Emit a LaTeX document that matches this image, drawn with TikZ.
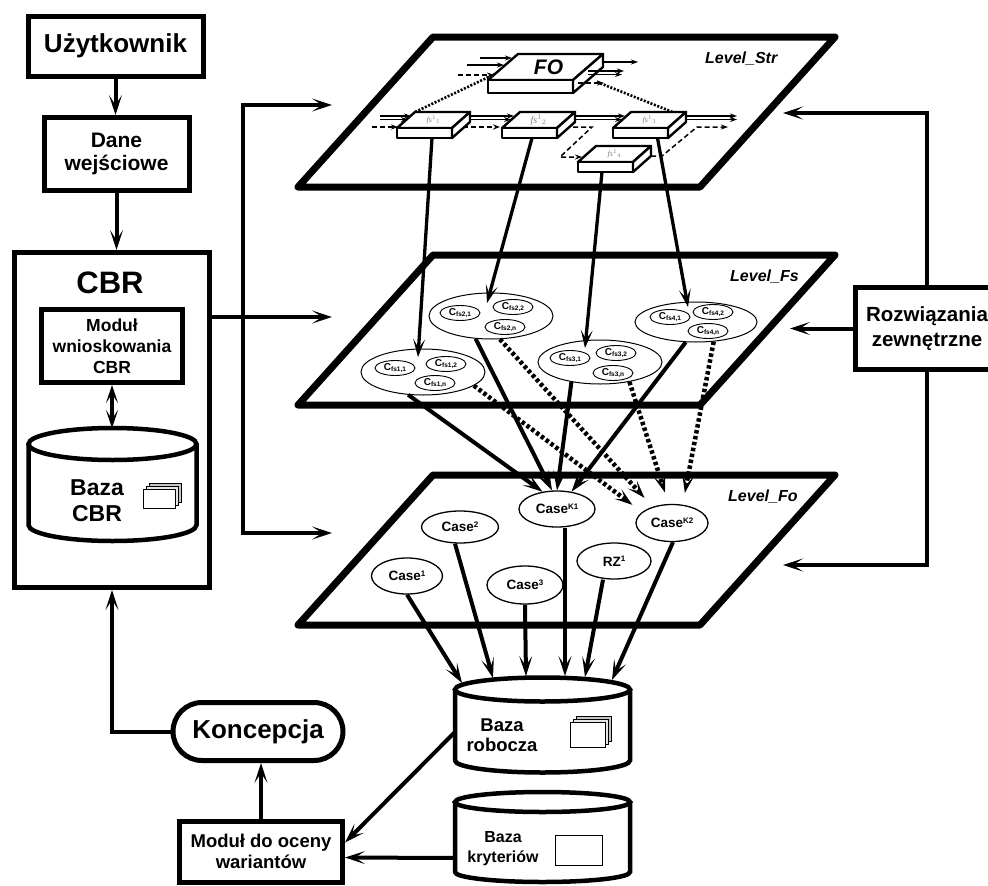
\documentclass[tikz,border=0pt]{standalone}
\usepackage{fontspec}
\setmainfont{Liberation Sans}
\newfontfamily\serifit{Liberation Serif}
\usetikzlibrary{arrows.meta,shapes.geometric}
\newcommand\fsz[2]{\bfseries\fontsize{#1}{#2}\selectfont}
\newcommand\Cfs[1]{{\fontsize{10}{10}\selectfont C}\raisebox{-1.8pt}{\fontsize{6.5}{6.5}\selectfont #1}}
\newcommand\Csup[2]{#1\raisebox{4.5pt}{\fontsize{8}{8}\selectfont #2}}
\newcommand\fslab[2]{\textcolor{gray}{\fontsize{#2}{#2}\selectfont\serifit\itshape fs$^{1}$$_{#1}$}}
\newcommand\drawcyl[5]{%
  \fill[white] (#1-#4,#2) -- (#1-#4,#3) arc[start angle=180,end angle=360,x radius=#4pt,y radius=#5pt] -- (#1+#4,#2) -- cycle;
  \draw[cyl] (#1-#4,#2) -- (#1-#4,#3) arc[start angle=180,end angle=360,x radius=#4pt,y radius=#5pt] -- (#1+#4,#2);
  \draw[cyl, fill=white] (#1,#2) ellipse[x radius=#4pt, y radius=#5pt];
}
\newcommand\cards[4]{%
  \draw[line width=0.7pt, fill=gray!45] (#1+6,#2-6) rectangle ++(#3,#4);
  \draw[line width=0.7pt, fill=gray!20] (#1+3,#2-3) rectangle ++(#3,#4);
  \draw[line width=0.7pt, fill=white] (#1,#2) rectangle ++(#3,#4);
}
\newcommand\slab[7]{%
  \draw[slabline] (#2,#3) -- ++(#4,0) -- ++(#5,-#6) -- ++(-#4,0) -- cycle;
  \draw[slabline] (#2,#3) rectangle ++(#4,#7);
  \draw[slabline] (#2+#4,#3) -- ++(#5,-#6) -- ++(0,#7) -- ++(-#5,#6) -- cycle;
  \coordinate (#1) at (#2+#4/2,#3+#7);
  \coordinate (#1top) at (#2+#4/2+#5/2,#3-#6/2);
}
\begin{document}
\begin{tikzpicture}[x=1pt,y=-1pt,
  every node/.style={inner sep=0pt, align=center},
  box/.style={draw, line width=5pt, fill=white, rectangle},
  plane/.style={draw, line width=7pt, line join=round, fill=white},
  arr/.style={line width=4pt, -{Stealth[length=20pt,width=13pt,inset=10pt,line width=1.2pt]}},
  darr/.style={line width=4pt, {Stealth[length=18pt,width=12pt,inset=9pt,line width=1.2pt]}-{Stealth[length=18pt,width=12pt,inset=9pt,line width=1.2pt]}},
  arrt/.style={line width=3.3pt, -{Stealth[length=18pt,width=12pt,inset=9pt,line width=1.2pt]}},
  conn/.style={line width=4pt},
  cyl/.style={line width=4.5pt},
  bige/.style={ellipse, draw, line width=1pt, minimum width=124pt, minimum height=46pt},
  sme/.style={ellipse, draw, line width=0.9pt, minimum width=40pt, minimum height=15pt, font=\bfseries},
  casee/.style={ellipse, draw, line width=1.3pt, fill=white, font=\fsz{13.5}{14}},
  dotarr/.style={line width=4.5pt, dash pattern=on 3.5pt off 2.5pt, -{Stealth[length=18pt,width=12pt,inset=9pt,line width=1.2pt]}, shorten >=12pt},
  slabline/.style={line width=2.4pt, fill=white, line join=round},
  sm/.style={line width=1.5pt, -{Stealth[length=7pt,width=5pt,inset=2.5pt]}},
  smd/.style={sm, dash pattern=on 5pt off 3pt},
  lvl/.style={font=\bfseries\itshape\fontsize{16}{16}\selectfont, anchor=base west},
  fodot/.style={line width=2.6pt, dash pattern=on 2pt off 1.6pt},
]
\useasboundingbox (0,0) rectangle (988,886);

% ---------------- planes
\draw[plane] (433,37) -- (835,37) -- (700,187) -- (298,187) -- cycle;
\draw[plane] (433,255) -- (835,255) -- (700,405) -- (298,405) -- cycle;
\draw[plane] (433,475) -- (835,475) -- (700,625) -- (298,625) -- cycle;
\node[lvl] (lv1) at (705,63) {Level\_Str};
\node[lvl] (lv2) at (730,281) {Level\_Fs};
\node[lvl] (lv3) at (728,501) {Level\_Fo};

% ---------------- left column
\node[box, minimum width=175pt, minimum height=60pt, font=\fsz{26}{28}] (user) at (115.5,46) {Użytkownik};
\node[box, minimum width=145pt, minimum height=73pt, font=\fsz{21}{23}] (dane) at (116.5,154) {Dane\\wejściowe};
\node[box, minimum width=195pt, minimum height=335pt] (cbr) at (112,420) {};
\node[font=\fsz{31}{31}] (cbrt) at (110,282.5) {CBR};
\node[box, minimum width=141pt, minimum height=73pt, font=\fsz{17.5}{21}] (modul) at (112,346) {Moduł\\wnioskowania\\CBR};
\drawcyl{112.5}{444}{525}{84}{16}
\cards{143}{489}{32}{19}
\node[font=\fsz{23}{26}] (bcbr) at (97,500.5) {Baza\\CBR};
\coordinate (bcbrtop) at (112,428);
\draw[darr] (modul.south) -- (bcbrtop);
\draw[arr] (user.south) -- (user.south |- dane.north);
\draw[arr] (dane.south) -- (dane.south |- cbr.north);

% left bracket
\coordinate (lt) at (243,105);
\coordinate (lm) at (243,317);
\coordinate (lb) at (243,533);
\coordinate (p1) at (332,105);
\coordinate (p2) at (332,317);
\coordinate (p3) at (332,533);
\draw[conn] (cbr.east |- lm) -- (lm);
\draw[arr] (lb) -- (lt) -- (p1);
\draw[arr] (lt) -- (lb) -- (p3);
\draw[arr] (lm) -- (p2);

% ---------------- right box
\node[box, minimum width=143pt, minimum height=82pt, font=\fsz{20.5}{25}] (rozw) at (927,328.5) {Rozwiązania\\zewnętrzne};
\coordinate (r1) at (783,113);
\coordinate (r2) at (790,328.5);
\coordinate (r3) at (783,565);
\draw[arr] (rozw.north) |- (r1);
\draw[arr] (rozw.west) -- (r2);
\draw[arr] (rozw.south) |- (r3);

% ---------------- Level_Str contents
\coordinate (FOl) at (495,74);
\coordinate (FOr) at (597,82);
\coordinate (fsAbl) at (415,112);
\coordinate (fsCbr) at (680,115);
\draw[fodot] (FOl) -- (fsAbl);
\draw[fodot] (FOr) -- (fsCbr);
% FO inputs / outputs
\draw[sm] (480,58) -- (512,58);
\draw[sm] (467,65) -- (504,65);
\draw[smd, line width=2.5pt] (458,75) -- (494,75);
\slab{FO}{488}{80}{85}{30}{26}{13}
\node[font=\bfseries\itshape\fontsize{21}{21}\selectfont] (fol) at ([xshift=3pt]FOtop) {FO};
\draw[sm] (604,62) -- (638,62);
\draw[sm] (588,71) -- (624,71);
\draw[sm] (588,74.5) -- (622,74.5);
\draw[smd] (578,83) -- (604,83);
% flows at fs level
\draw[sm] (380,116) -- (411,116);
\draw[sm] (380,119.5) -- (408,119.5);
\draw[smd] (372,127) -- (398,127);
\draw[sm] (470,116) -- (514,116);
\draw[sm] (470,119.5) -- (511,119.5);
\draw[smd] (455,127) -- (500,127);
\draw[sm] (575,116) -- (625,116);
\draw[sm] (575,119.5) -- (622,119.5);
\draw[smd] (557,127) -- (592,127) -- (560,157) -- (582,157);
\draw[sm] (686,116) -- (737,116);
\draw[sm] (686,119.5) -- (737,119.5);
\draw[smd] (651,156) -- (662,156) -- (697,127) -- (728,127);
\slab{fsA}{397}{128}{55}{18}{16}{10}
\slab{fsB}{502}{128}{55}{18}{16}{10}
\slab{fsC}{613}{128}{55}{18}{16}{10}
\slab{fsD}{578}{162}{55}{18}{16}{10}
\node (fsAl) at (fsAtop) {\fslab{1}{8}};
\node (fsBl) at (fsBtop) {\fslab{2}{10}};
\node (fsCl) at (fsCtop) {\fslab{3}{8}};
\node (fsDl) at (fsDtop) {\fslab{4}{8}};

% ---------------- Level_Fs contents
\node[bige] (E1) at (423,372) {};
\node[bige] (E2) at (491,316) {};
\node[bige, minimum height=44pt] (E3) at (600,362) {};
\node[bige, minimum width=122pt, minimum height=40pt] (E4) at (696,322) {};
\node[sme] (c11) at (395,368) {\Cfs{fs1,1}};
\node[sme] (c12) at (446,364) {\Cfs{fs1,2}};
\node[sme] (c1n) at (435,383) {\Cfs{fs1,n}};
\node[sme] (c21) at (460,313) {\Cfs{fs2,1}};
\node[sme] (c22) at (513,307) {\Cfs{fs2,2}};
\node[sme] (c2n) at (505,327) {\Cfs{fs2,n}};
\node[sme] (c31) at (570,358) {\Cfs{fs3,1}};
\node[sme] (c32) at (616,353) {\Cfs{fs3,2}};
\node[sme] (c3n) at (613,373) {\Cfs{fs3,n}};
\node[sme] (c41) at (670,317) {\Cfs{fs4,1}};
\node[sme] (c42) at (713,312) {\Cfs{fs4,2}};
\node[sme] (c4n) at (708,331) {\Cfs{fs4,n}};
\coordinate (t1) at (418,357);
\coordinate (t2) at (487,303);
\coordinate (t3) at (585,348);
\coordinate (t4) at (688,307);
\draw[arrt] ([xshift=7.5pt]fsA) -- (t1);
\draw[arrt] ([xshift=2.5pt]fsB) -- (t2);
\draw[arrt] ([xshift=-3.5pt]fsD) -- (t3);
\draw[arrt] ([xshift=17pt]fsC) -- (t4);

% ---------------- Level_Fo contents
\node[casee, minimum width=76pt, minimum height=36pt] (ck1) at (557,509) {\Csup{Case}{K1}};
\node[casee, minimum width=72pt, minimum height=37pt] (ck2) at (672,523) {\Csup{Case}{K2}};
\node[casee, minimum width=77pt, minimum height=32pt] (cs2) at (460,527) {\Csup{Case}{2}};
\node[casee, minimum width=71pt, minimum height=36pt] (cs1) at (407,576) {\Csup{Case}{1}};
\node[casee, minimum width=76pt, minimum height=38pt] (cs3) at (525,585) {\Csup{Case}{3}};
\node[casee, minimum width=74pt, minimum height=36pt] (rz1) at (614,561) {\Csup{RZ}{1}};
\draw[arr] (E1.237) -- (ck1.130);
\draw[arr] (E2.236) -- (ck1.105);
\draw[arr] (E3.215) -- (ck1.90);
\draw[arr] (E4.243) -- (ck1.50);
\draw[dotarr] (E1.345) -- (ck2.160);
\draw[dotarr] (E2.291) -- (ck2.140);
\draw[dotarr] (E3.326) -- (ck2.100);
\draw[dotarr] (E4.312) -- (ck2.60);

% ---------------- bottom
\drawcyl{542.5}{689.5}{760.5}{87.5}{12}
\cards{570}{722}{35}{25}
\node[font=\fsz{18.5}{20}] (brob) at (502,735) {Baza\\robocza};
\drawcyl{542.5}{802}{872}{87.5}{10}
\draw[line width=0.9pt] (555,835) rectangle (602,865);
\node[font=\fsz{16}{20}] (bkry) at (503,849) {Baza\\kryteriów};
\coordinate (rt1) at (462,683);
\coordinate (rt2) at (493,678);
\coordinate (rt3) at (526,676);
\coordinate (rt4) at (565,676);
\coordinate (rt5) at (585,677);
\coordinate (rt6) at (612,680);
\draw[arr] (cs1.south) -- (rt1);
\draw[arr] ([xshift=-5pt]cs2.south) -- (rt2);
\draw[arr] (cs3.south) -- (rt3);
\draw[arr] ([xshift=8pt]ck1.south) -- (rt4);
\draw[arr] ([xshift=-11pt]rz1.south) -- (rt5);
\draw[arr] ([xshift=1pt]ck2.south) -- (rt6);

\node[box, rounded corners=29pt, minimum width=170pt, minimum height=58pt, font=\fsz{26}{28}] (konc) at (258,731.5) {Koncepcja};
\node[box, minimum width=163pt, minimum height=61pt, font=\fsz{18.5}{21}] (mod2) at (261,851.5) {Moduł do oceny\\wariantów};
\coordinate (robL) at (455,732);
\coordinate (kryL) at (455,858);
\draw[arr] (robL) -- ([yshift=9pt]mod2.east);
\draw[arr] (kryL) -- ([yshift=-6pt]mod2.east);
\draw[arr] (mod2.north) -- (mod2.north |- konc.south);
\draw[arr] (konc.west) -| (cbr.south);
\end{tikzpicture}
\end{document}
